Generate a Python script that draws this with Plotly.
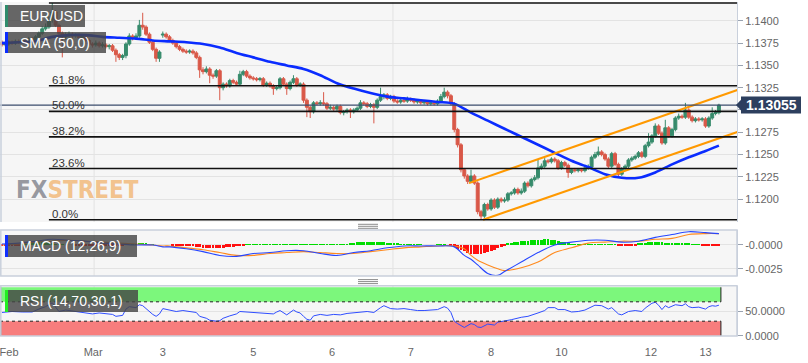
import plotly.graph_objects as go

# ---------------- data (hourly EUR/USD candles) ----------------
opens = [
1.1376,1.1373,1.1374,1.1376,1.1375,1.1377,1.1376,1.1378,1.1377,1.1380,
1.1378,1.1382,1.1386,1.1391,1.1393,1.1401,1.1410,1.1395,1.1386,1.1382,
1.1384,1.1385,1.1383,1.1384,1.1381,1.1382,1.1378,1.1374,1.1373,1.1375,
1.1372,1.1373,1.1371,1.1372,1.1367,1.1362,1.1359,1.1361,1.1374,1.1383,
1.1381,1.1383,1.1395,1.1393,1.1385,1.1376,1.1368,1.1358,1.1384,1.1385,
1.1382,1.1378,1.1375,1.1371,1.1368,1.1366,1.1365,1.1366,1.1364,1.1359,
1.1345,1.1343,1.1346,1.1339,1.1338,1.1344,1.1325,1.1329,1.1327,1.1333,
1.1331,1.1329,1.1340,1.1343,1.1338,1.1336,1.1335,1.1334,1.1335,1.1328,
1.1330,1.1327,1.1324,1.1325,1.1335,1.1329,1.1324,1.1331,1.1335,1.1328,
1.1329,1.1311,1.1303,1.1298,1.1308,1.1307,1.1308,1.1307,1.1302,1.1303,
1.1301,1.1304,1.1297,1.1298,1.1300,1.1298,1.1300,1.1302,1.1308,1.1307,
1.1304,1.1306,1.1303,1.1311,1.1315,1.1317,1.1313,1.1315,1.1310,1.1309,
1.1311,1.1310,1.1312,1.1311,1.1309,1.1310,1.1308,1.1309,1.1307,1.1308,
1.1307,1.1310,1.1315,1.1320,1.1316,1.1307,1.1278,1.1261,1.1233,1.1226,
1.1220,1.1226,1.1218,1.1186,1.1181,1.1194,1.1189,1.1199,1.1191,1.1200,
1.1198,1.1199,1.1206,1.1207,1.1211,1.1207,1.1209,1.1218,1.1215,1.1222,
1.1224,1.1235,1.1237,1.1243,1.1242,1.1245,1.1243,1.1235,1.1241,1.1238,
1.1230,1.1233,1.1232,1.1233,1.1232,1.1235,1.1236,1.1247,1.1250,1.1253,
1.1250,1.1245,1.1237,1.1251,1.1239,1.1228,1.1234,1.1237,1.1244,1.1246,
1.1248,1.1252,1.1248,1.1260,1.1264,1.1271,1.1282,1.1274,1.1263,1.1280,
1.1271,1.1278,1.1291,1.1293,1.1292,1.1300,1.1292,1.1288,1.1290,1.1289,
1.1290,1.1282,1.1291,1.1296,1.1297]
highs = [
1.1378,1.1377,1.1378,1.1378,1.1379,1.1379,1.1381,1.1380,1.1382,1.1382,
1.1384,1.1388,1.1394,1.1397,1.1405,1.1420,1.1412,1.1397,1.1388,1.1387,
1.1388,1.1387,1.1386,1.1386,1.1385,1.1384,1.1380,1.1376,1.1378,1.1377,
1.1376,1.1375,1.1374,1.1374,1.1369,1.1364,1.1363,1.1376,1.1386,1.1385,
1.1386,1.1401,1.1409,1.1395,1.1387,1.1378,1.1370,1.1367,1.1388,1.1387,
1.1384,1.1380,1.1377,1.1373,1.1370,1.1368,1.1368,1.1368,1.1366,1.1361,
1.1348,1.1349,1.1348,1.1341,1.1346,1.1346,1.1331,1.1331,1.1335,1.1335,
1.1333,1.1344,1.1345,1.1345,1.1340,1.1338,1.1337,1.1337,1.1337,1.1332,
1.1332,1.1329,1.1328,1.1337,1.1337,1.1331,1.1333,1.1339,1.1337,1.1331,
1.1331,1.1313,1.1305,1.1310,1.1310,1.1311,1.1320,1.1309,1.1306,1.1305,
1.1306,1.1306,1.1300,1.1302,1.1302,1.1302,1.1304,1.1311,1.1310,1.1309,
1.1308,1.1308,1.1313,1.1325,1.1319,1.1319,1.1317,1.1317,1.1312,1.1313,
1.1313,1.1315,1.1314,1.1313,1.1312,1.1312,1.1311,1.1311,1.1310,1.1310,
1.1312,1.1318,1.1325,1.1322,1.1318,1.1309,1.1280,1.1263,1.1235,1.1228,
1.1233,1.1228,1.1220,1.1188,1.1196,1.1196,1.1201,1.1201,1.1202,1.1202,
1.1202,1.1208,1.1209,1.1213,1.1213,1.1212,1.1220,1.1220,1.1224,1.1227,
1.1244,1.1240,1.1246,1.1245,1.1247,1.1247,1.1245,1.1243,1.1243,1.1240,
1.1235,1.1235,1.1235,1.1235,1.1237,1.1239,1.1249,1.1253,1.1259,1.1255,
1.1252,1.1247,1.1253,1.1253,1.1241,1.1236,1.1239,1.1246,1.1248,1.1250,
1.1254,1.1254,1.1262,1.1274,1.1273,1.1285,1.1284,1.1276,1.1289,1.1282,
1.1280,1.1293,1.1296,1.1295,1.1308,1.1302,1.1294,1.1292,1.1292,1.1292,
1.1292,1.1293,1.1303,1.1300,1.1307]
lows = [
1.1371,1.1371,1.1372,1.1373,1.1373,1.1374,1.1375,1.1374,1.1375,1.1376,
1.1377,1.1380,1.1384,1.1389,1.1391,1.1398,1.1393,1.1383,1.1359,1.1379,
1.1381,1.1380,1.1381,1.1379,1.1379,1.1376,1.1372,1.1370,1.1371,1.1370,
1.1370,1.1369,1.1368,1.1365,1.1354,1.1356,1.1356,1.1358,1.1372,1.1378,
1.1379,1.1381,1.1390,1.1383,1.1374,1.1366,1.1354,1.1354,1.1381,1.1380,
1.1376,1.1373,1.1369,1.1366,1.1364,1.1363,1.1363,1.1362,1.1357,1.1336,
1.1340,1.1341,1.1330,1.1335,1.1336,1.1311,1.1322,1.1325,1.1325,1.1329,
1.1327,1.1327,1.1338,1.1336,1.1334,1.1333,1.1332,1.1332,1.1326,1.1326,
1.1325,1.1317,1.1322,1.1323,1.1327,1.1317,1.1322,1.1329,1.1326,1.1326,
1.1308,1.1292,1.1291,1.1296,1.1305,1.1305,1.1305,1.1300,1.1300,1.1299,
1.1299,1.1295,1.1294,1.1296,1.1291,1.1296,1.1298,1.1300,1.1305,1.1302,
1.1302,1.1285,1.1301,1.1309,1.1312,1.1311,1.1311,1.1308,1.1307,1.1307,
1.1308,1.1308,1.1309,1.1307,1.1307,1.1306,1.1306,1.1305,1.1305,1.1305,
1.1305,1.1308,1.1313,1.1313,1.1305,1.1275,1.1258,1.1230,1.1223,1.1217,
1.1218,1.1216,1.1183,1.1177,1.1179,1.1187,1.1187,1.1189,1.1189,1.1196,
1.1196,1.1197,1.1204,1.1205,1.1205,1.1205,1.1207,1.1213,1.1213,1.1220,
1.1222,1.1233,1.1235,1.1240,1.1240,1.1241,1.1233,1.1233,1.1236,1.1224,
1.1228,1.1230,1.1230,1.1230,1.1230,1.1233,1.1234,1.1245,1.1248,1.1248,
1.1243,1.1235,1.1235,1.1237,1.1225,1.1226,1.1232,1.1235,1.1242,1.1244,
1.1246,1.1246,1.1246,1.1258,1.1262,1.1269,1.1272,1.1261,1.1261,1.1269,
1.1269,1.1276,1.1289,1.1290,1.1290,1.1290,1.1286,1.1286,1.1287,1.1287,
1.1280,1.1280,1.1289,1.1294,1.1295]
closes = [
1.1373,1.1374,1.1376,1.1375,1.1377,1.1376,1.1378,1.1377,1.1380,1.1378,
1.1382,1.1386,1.1391,1.1393,1.1401,1.1410,1.1395,1.1386,1.1382,1.1384,
1.1385,1.1383,1.1384,1.1381,1.1382,1.1378,1.1374,1.1373,1.1375,1.1372,
1.1373,1.1371,1.1372,1.1367,1.1362,1.1359,1.1361,1.1374,1.1383,1.1381,
1.1383,1.1395,1.1393,1.1385,1.1376,1.1368,1.1358,1.1365,1.1385,1.1382,
1.1378,1.1375,1.1371,1.1368,1.1366,1.1365,1.1366,1.1364,1.1359,1.1345,
1.1343,1.1346,1.1339,1.1338,1.1344,1.1325,1.1329,1.1327,1.1333,1.1331,
1.1329,1.1340,1.1343,1.1338,1.1336,1.1335,1.1334,1.1335,1.1328,1.1330,
1.1327,1.1324,1.1325,1.1335,1.1329,1.1324,1.1331,1.1335,1.1328,1.1329,
1.1311,1.1303,1.1298,1.1308,1.1307,1.1308,1.1307,1.1302,1.1303,1.1301,
1.1304,1.1297,1.1298,1.1300,1.1298,1.1300,1.1302,1.1308,1.1307,1.1304,
1.1306,1.1303,1.1311,1.1315,1.1317,1.1313,1.1315,1.1310,1.1309,1.1311,
1.1310,1.1312,1.1311,1.1309,1.1310,1.1308,1.1309,1.1307,1.1308,1.1307,
1.1310,1.1315,1.1320,1.1316,1.1307,1.1278,1.1261,1.1233,1.1226,1.1220,
1.1226,1.1218,1.1186,1.1181,1.1194,1.1189,1.1199,1.1191,1.1200,1.1198,
1.1199,1.1206,1.1207,1.1211,1.1207,1.1209,1.1218,1.1215,1.1222,1.1224,
1.1235,1.1237,1.1243,1.1242,1.1245,1.1243,1.1235,1.1241,1.1238,1.1230,
1.1233,1.1232,1.1233,1.1232,1.1235,1.1236,1.1247,1.1250,1.1253,1.1250,
1.1245,1.1237,1.1251,1.1239,1.1228,1.1234,1.1237,1.1244,1.1246,1.1248,
1.1252,1.1248,1.1260,1.1264,1.1271,1.1282,1.1274,1.1263,1.1280,1.1271,
1.1278,1.1291,1.1293,1.1292,1.1300,1.1292,1.1288,1.1290,1.1289,1.1290,
1.1282,1.1291,1.1296,1.1297,1.13055]

# SMA(50) read at sampled candle indices
sma_idx = [0,5,10,15,20,25,30,35,40,45,50,55,60,65,70,75,80,85,90,95,100,105,110,115,120,
           125,130,135,140,145,150,155,160,165,170,175,180,185,190,195,200,205,210,214]
sma_val = [1.1375,1.1376,1.1377,1.1382,1.1384,1.1384,1.1382,1.1381,1.1380,1.1378,1.1377,1.1376,
           1.1374,1.1370,1.1364,1.1359,1.1354,1.1350,1.1346,1.1339,1.1330,1.1324,1.1319,1.1315,
           1.1313,1.1311,1.1309,1.1307,1.1297,1.1288,1.1279,1.1270,1.1261,1.1252,1.1243,1.1236,
           1.1228,1.1224,1.1224,1.1230,1.1239,1.1247,1.1254,1.1260]

# Fibonacci retracement anchors
fib_high = 1.1420
fib_low = 1.1177
fib_start = 14
fib_ratios = [0.0, 0.236, 0.382, 0.5, 0.618, 1.0]
fib_labels = ["0.0%", "23.6%", "38.2%", "50.0%", "61.8%", ""]

# Rising channel (two parallel trend lines)
chan_upper_x = [139.4, 220.0]
chan_upper_y = [1.1218, 1.1323]
chan_lower_x = [143.6, 220.0]
chan_lower_y = [1.1177, 1.1276]

# MACD (12,26,9)
macd_idx = [0,5,10,15,20,25,30,35,40,45,48,50,55,60,65,70,75,80,85,90,95,100,105,110,115,120,
            125,130,135,138,140,142,145,148,150,155,160,165,170,175,180,185,190,195,200,205,210,214]
macd_line = [0.0001,0.0002,0.0004,0.0006,0.0005,0.0004,0.0002,0.0001,0.0000,0.0000,
             -0.0002,-0.0002,-0.0004,-0.0007,-0.0011,-0.0012,-0.0009,-0.0008,-0.0006,-0.0006,
             -0.0009,-0.0011,-0.0008,-0.0006,-0.0003,-0.0001,-0.0001,-0.0001,-0.0002,-0.0011,
             -0.0015,-0.0021,-0.0030,-0.0032,-0.0028,-0.0018,-0.0008,0.0000,0.0003,0.0005,
             0.0005,0.0003,0.0004,0.0008,0.0011,0.0014,0.0013,0.0012]
macd_signal = [0.0000,0.0001,0.0003,0.0004,0.0005,0.0004,0.0003,0.0002,0.0001,0.0000,
               -0.0001,-0.0001,-0.0003,-0.0005,-0.0008,-0.0011,-0.0011,-0.0009,-0.0008,-0.0007,
               -0.0008,-0.0009,-0.0009,-0.0007,-0.0005,-0.0003,-0.0002,-0.0001,-0.0001,-0.0004,
               -0.0011,-0.0016,-0.0021,-0.0025,-0.0027,-0.0024,-0.0018,-0.0008,-0.0003,0.0002,
               0.0003,0.0004,0.0004,0.0006,0.0007,0.0011,0.0012,0.0012]
macd_hist = [
-0.0001,-0.0001,-0.0001,-0.0001,-0.0001,-0.0001,
0.0001,0.0001,0.0002,0.0002,0.0002,0.0003,0.0003,0.0003,0.0002,
0.0002,0.0001,0.0001,0.0001,0.0,0.0,0.0,-0.0001,-0.0001,-0.0001,-0.0001,-0.0001,-0.0001,-0.0001,-0.0001,-0.0001,
-0.0001,-0.0001,-0.0001,-0.0001,-0.0001,-0.0001,0.0,0.0,0.0001,
0.0001,0.0002,0.0002,0.0002,0.0001,0.0001,0.0,0.0,
0.0,0.0,0.0,-0.0001,-0.0001,-0.0001,-0.0001,-0.0001,-0.0001,-0.0001,
-0.0002,-0.0002,-0.0003,-0.0003,-0.0003,-0.0003,-0.0003,-0.0003,-0.0003,-0.0002,-0.0002,-0.0002,-0.0001,-0.0001,-0.0001,
0.0001,0.0001,0.0001,0.0001,0.0001,0.0001,0.0001,0.0001,0.0001,0.0001,0.0001,0.0001,0.0001,0.0001,0.0001,0.0001,
0.00005,0.00005,0.00005,0.00005,0.00005,0.00005,0.00005,0.00005,0.00005,0.00005,0.00005,0.00005,
0.0001,0.0001,0.0001,
0.0002,0.0002,0.0003,0.0003,0.0003,0.0003,0.0003,0.0003,0.0003,0.0003,0.0003,0.0002,0.0002,0.0002,0.0002,0.0001,0.0001,
0.0001,0.0001,0.0001,0.0001,0.0001,0.0,0.0,0.0,0.0,0.0001,0.0001,0.0001,0.0,-0.0001,
-0.0002,-0.0004,-0.0005,-0.0006,-0.0008,-0.0009,-0.0010,-0.0010,-0.0009,-0.0008,-0.0007,-0.0006,-0.0005,-0.0003,-0.0002,-0.0001,
0.0002,0.0002,0.0003,0.0003,0.0004,0.0004,0.0004,0.0005,0.0005,0.0005,0.0005,0.0006,0.0006,0.0005,0.0005,0.0004,0.0003,0.0003,0.0002,0.0001,0.0001,
0.0001,0.0001,0.0001,0.0001,0.0001,0.0001,0.0001,0.0001,0.0001,0.0001,0.0001,0.0001,
-0.0001,-0.0001,-0.0001,-0.0001,-0.0001,-0.0001,
0.0002,0.0002,0.0002,0.0003,0.0003,0.0003,0.0003,0.0003,0.0002,0.0002,0.0002,0.0002,0.0002,0.0002,0.0002,0.0002,0.0001,0.0001,0.0001,
-0.0001,-0.0001,-0.0001,-0.0001,-0.0001,-0.0001]

# RSI (14)
rsi_idx = [0,3,6,9,11,13,15,16,17,19,21,23,25,27,29,31,33,34,36,37,38,40,41,42,43,44,45,46,47,48,
           50,52,54,56,58,59,61,62,64,65,66,68,70,71,73,75,77,79,81,82,83,85,86,87,88,89,90,91,92,93,
           95,97,99,101,103,105,107,109,111,112,113,114,116,118,120,122,124,126,128,130,132,133,134,135,136,
           138,140,141,142,143,145,147,148,150,152,155,157,160,162,163,165,166,168,170,172,174,176,177,179,
           181,182,184,185,187,189,191,192,193,194,195,196,197,198,199,201,203,204,205,206,208,210,211,212,213,214]
rsi_val = [48,50,49,49,55,60,68,58,50,53,51,48,46,45,47,46,44,40,42,55,60,58,64,62,56,48,44,40,45,56,
           53,50,52,50,48,40,36,32,30,31,36,41,45,50,49,48,47,46,45,49,52,43,48,53,49,47,40,34,32,41,
           44,42,44,43,46,47,48,50,48,54,58,62,56,55,56,54,52,52,53,54,60,57,48,30,25,
           17,25,23,18,17,24,22,28,30,33,38,40,47,52,58,58,54,54,49,50,53,60,63,62,
           55,58,45,43,50,52,50,57,62,67,69,63,54,62,58,64,62,66,60,58,59,55,60,62,61,63]
rsi_upper = 70
rsi_lower = 30

# axes
tick_idx = [2.1, 27.2, 48, 75, 98.5, 122, 146, 167, 193.7, 210]
tick_text = ["Feb", "Mar", "3", "5", "6", "7", "8", "10", "12", "13"]
price_ticks = [1.1200, 1.1225, 1.1250, 1.1275, 1.1300, 1.1325, 1.1350, 1.1375, 1.1400]
price_hidden_tick = 1.1300   # covered by the last-price tag in the picture
vgrid_idx = [27.5, 116.7]

assert len(opens) == len(highs) == len(lows) == len(closes) == len(macd_hist) == 215
assert len(sma_idx) == len(sma_val) and len(macd_idx) == len(macd_line) == len(macd_signal)
assert len(rsi_idx) == len(rsi_val)

# ---------------- geometry helpers ----------------
W, H = 808, 363
ML, MR, MT, MB = 0, 71, 2, 27
PW, PH = W - ML - MR, H - MT - MB


def fx(px):
    return (px - ML) / PW


def fy(py):
    return (H - MB - py) / PH


N = len(closes)
xi = list(range(N))
X_RANGE = [-0.6, 219.4]
FONT = "Liberation Sans, Arial, sans-serif"
GREEN, RED = "#378b6c", "#d95848"
TICKC = "#666666"

fig = go.Figure()

fig.add_trace(go.Candlestick(
    x=xi, open=opens, high=highs, low=lows, close=closes,
    increasing=dict(line=dict(color=GREEN, width=1), fillcolor=GREEN),
    decreasing=dict(line=dict(color=RED, width=1), fillcolor=RED),
    whiskerwidth=0, xaxis="x", yaxis="y", showlegend=False, hoverinfo="skip"))

fig.add_trace(go.Scatter(x=sma_idx, y=sma_val, mode="lines", xaxis="x", yaxis="y",
                         line=dict(color="#0a2cff", width=2.6, shape="spline", smoothing=0.8),
                         showlegend=False, hoverinfo="skip"))
for cx, cy in ((chan_upper_x, chan_upper_y), (chan_lower_x, chan_lower_y)):
    fig.add_trace(go.Scatter(x=cx, y=cy, mode="lines", xaxis="x", yaxis="y",
                             line=dict(color="#ff9900", width=2), showlegend=False, hoverinfo="skip"))

fig.add_trace(go.Bar(x=xi, y=macd_hist, xaxis="x", yaxis="y2", width=0.85,
                     marker=dict(color=["#00dd00" if v >= 0 else "#ff1010" for v in macd_hist], line=dict(width=0)),
                     showlegend=False, hoverinfo="skip"))
fig.add_trace(go.Scatter(x=macd_idx, y=macd_signal, mode="lines", xaxis="x", yaxis="y2",
                         line=dict(color="#ff8a1e", width=1.1, shape="spline"), showlegend=False, hoverinfo="skip"))
fig.add_trace(go.Scatter(x=macd_idx, y=macd_line, mode="lines", xaxis="x", yaxis="y2",
                         line=dict(color="#2646ff", width=1.1, shape="spline"), showlegend=False, hoverinfo="skip"))

fig.add_trace(go.Scatter(x=rsi_idx, y=rsi_val, mode="lines", xaxis="x", yaxis="y3",
                         line=dict(color="#2f4dff", width=1), showlegend=False, hoverinfo="skip"))

shapes = []
annotations = []

# vertical grid lines in each panel
for v in vgrid_idx:
    for ya in ("y", "y2", "y3"):
        shapes.append(dict(type="line", xref="x", yref=f"{ya} domain", x0=v, x1=v, y0=0, y1=1,
                           line=dict(color="#e2e2e2", width=1), layer="below"))

# RSI zones
band_end = N - 0.4
shapes.append(dict(type="rect", xref="x", yref="y3", x0=X_RANGE[0], x1=band_end, y0=rsi_upper, y1=100,
                   fillcolor="#7cf77c", line=dict(width=0), layer="below"))
shapes.append(dict(type="rect", xref="x", yref="y3", x0=X_RANGE[0], x1=band_end, y0=-0.6, y1=rsi_lower,
                   fillcolor="#f77d7d", line=dict(width=0), layer="below"))
for lv in (rsi_upper, rsi_lower):
    shapes.append(dict(type="line", xref="x", yref="y3", x0=X_RANGE[0], x1=band_end, y0=lv, y1=lv,
                       line=dict(color="#222", width=1, dash="dot")))
for bx in (X_RANGE[0] + 0.2, band_end):
    shapes.append(dict(type="line", xref="x", yref="y3", x0=bx, x1=bx, y0=rsi_upper, y1=100,
                       line=dict(color="#222", width=1)))
    shapes.append(dict(type="line", xref="x", yref="y3", x0=bx, x1=bx, y0=-0.6, y1=rsi_lower,
                       line=dict(color="#222", width=1)))

# Fibonacci levels
for r, lab in zip(fib_ratios, fib_labels):
    lvl = fib_low + r * (fib_high - fib_low)
    shapes.append(dict(type="line", xref="x", yref="y", x0=fib_start, x1=X_RANGE[1], y0=lvl, y1=lvl,
                       line=dict(color="#111111", width=1.6)))
    if lab:
        annotations.append(dict(x=fib_start, y=lvl, xref="x", yref="y", text=lab, showarrow=False,
                                xanchor="left", yanchor="bottom", xshift=1, yshift=-2,
                                font=dict(family=FONT, size=11.5, color="#333333")))

# current price line
last = closes[-1]
shapes.append(dict(type="line", xref="paper", yref="y", x0=0, x1=1, y0=last, y1=last,
                   line=dict(color="#3b4c6c", width=1.2)))

# panel borders
BORDER = "#c9d0dc"
shapes.append(dict(type="line", xref="paper", yref="paper", x0=fx(1), x1=fx(1), y0=fy(222), y1=fy(2),
                   line=dict(color=BORDER, width=1.5)))
shapes.append(dict(type="rect", xref="paper", yref="paper", x0=fx(0.8), x1=fx(737), y0=fy(276), y1=fy(230),
                   line=dict(color=BORDER, width=1.5)))
shapes.append(dict(type="rect", xref="paper", yref="paper", x0=fx(0.8), x1=fx(737), y0=fy(336), y1=fy(285.7),
                   line=dict(color=BORDER, width=1.5)))

# panel drag handles
for py in (224.3, 226.3, 228.3, 279.6, 281.6, 283.6):
    shapes.append(dict(type="line", xref="paper", yref="paper", x0=fx(358), x1=fx(378), y0=fy(py), y1=fy(py),
                       line=dict(color="#8c8c8c", width=1)))

# indicator name boxes
boxes = [
    ("EUR/USD", 5, 85, 5, 27, "#2f8c6c"),
    ("SMA (50,0)", 5, 106, 32, 53, "#0a2cff"),
    ("MACD (12,26,9)", 5, 137, 235, 257, "#1030ff"),
    ("RSI (14,70,30,1)", 5, 138, 290, 312, "#22ee22"),
]
for txt, x0, x1, y0, y1, bar in boxes:
    shapes.append(dict(type="rect", xref="paper", yref="paper", x0=fx(x0), x1=fx(x1), y0=fy(y1), y1=fy(y0),
                       fillcolor="rgba(70,70,70,0.82)", line=dict(width=0)))
    shapes.append(dict(type="rect", xref="paper", yref="paper", x0=fx(x0), x1=fx(x0 + 3), y0=fy(y1), y1=fy(y0),
                       fillcolor=bar, line=dict(width=0)))
    annotations.append(dict(x=fx(x0 + 13), y=fy((y0 + y1) / 2), xref="paper", yref="paper", text=txt,
                            showarrow=False, xanchor="left", yanchor="middle",
                            font=dict(family=FONT, size=14, color="white")))

# last price tag
shapes.append(dict(type="rect", xref="paper", yref="y", x0=fx(741), x1=fx(801), y0=last - 0.00095,
                   y1=last + 0.00095, fillcolor="#2d3f5e", line=dict(width=0)))
shapes.append(dict(type="path", xref="paper", yref="y",
                   path=f"M {fx(736)},{last} L {fx(741.5)},{last + 0.00065} L {fx(741.5)},{last - 0.00065} Z",
                   fillcolor="#2d3f5e", line=dict(width=0)))
annotations.append(dict(x=fx(771), y=last, xref="paper", yref="y", text=f"<b>{last:.5f}</b>",
                        showarrow=False, xanchor="center", yanchor="middle",
                        font=dict(family=FONT, size=14, color="white")))

# watermark
annotations.append(dict(x=fx(14), y=fy(189.5), xref="paper", yref="paper", showarrow=False,
                        xanchor="left", yanchor="middle",
                        text="<b><span style='color:rgba(120,122,132,0.75)'>FX</span>"
                             "<span style='color:rgba(240,165,80,0.65)'>STREET</span></b>",
                        font=dict(family="DejaVu Sans Condensed, Liberation Sans Narrow, sans-serif", size=24)))

axis_common = dict(side="right", anchor="x", zeroline=False, showline=True, linecolor=BORDER,
                   ticks="outside", ticklen=5, tickcolor="#9aa3b0", gridcolor="#e3e3e3",
                   tickfont=dict(family=FONT, size=11, color=TICKC), fixedrange=True)

fig.update_layout(
    width=W, height=H,
    margin=dict(l=ML, r=MR, t=MT, b=MB),
    paper_bgcolor="white", plot_bgcolor="#f6f6f6",
    boxgap=0.12, boxgroupgap=0.0,
    bargap=0,
    showlegend=False,
    xaxis=dict(domain=[0, 1], range=X_RANGE, anchor="y3", tickvals=tick_idx, ticktext=tick_text,
               showgrid=False, zeroline=False, showline=False, ticks="outside", ticklen=6,
               tickcolor="rgba(0,0,0,0)", tickfont=dict(family=FONT, size=11, color=TICKC),
               ticklabeloverflow="allow", rangeslider=dict(visible=False), fixedrange=True),
    yaxis=dict(domain=[fy(222), fy(2)], range=[1.11744, 1.14211], tickvals=price_ticks,
               ticktext=["" if t == price_hidden_tick else f"{t:.4f}" for t in price_ticks], **axis_common),
    yaxis2=dict(domain=[fy(276), fy(230)], range=[-0.00327, 0.00158], tickvals=[0, -0.0025],
                ticktext=["-0.0000", "-0.0025"], **axis_common),
    yaxis3=dict(domain=[fy(336), fy(285.7)], range=[-0.6, 103.3], tickvals=[50, 0],
                ticktext=["50.0000", "0.0000"], **axis_common),
    shapes=shapes,
    annotations=annotations,
)

fig.write_html("out.html", config={"displayModeBar": False},
               post_script="document.body.style.margin='0';document.body.style.overflow='hidden';")
